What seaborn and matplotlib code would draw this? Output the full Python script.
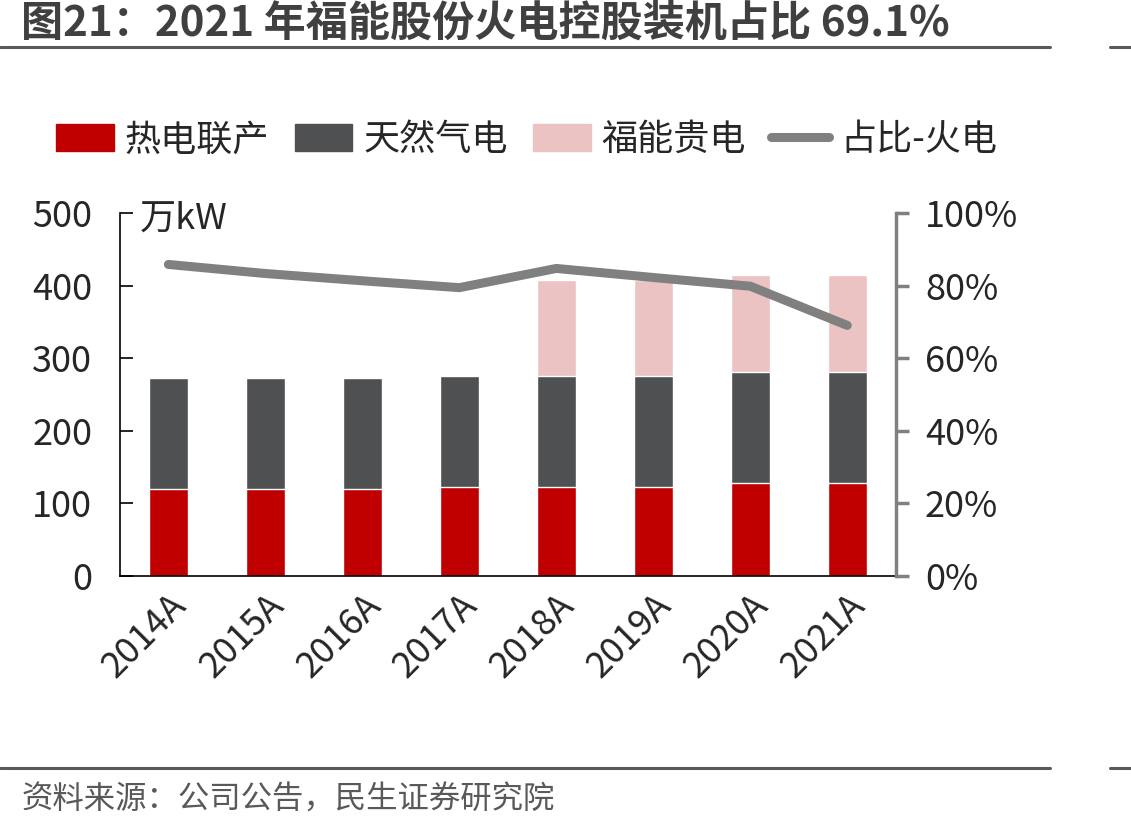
import seaborn as sns
import matplotlib.pyplot as plt
import pandas as pd
from matplotlib.lines import Line2D
from matplotlib.patches import Patch

# 装机容量（万kW）与火电占比
years = ['2014A', '2015A', '2016A', '2017A', '2018A', '2019A', '2020A', '2021A']
chp = [119.5, 119.5, 119.5, 122.7, 122.7, 122.7, 128.7, 128.7]       # 热电联产
gas = [153, 153, 153, 153, 153, 153, 153, 153]                       # 天然气电
guidian = [0, 0, 0, 0, 132.3, 132.3, 132.8, 132.8]                    # 福能贵电
share = [85.9, 83.4, 81.4, 79.5, 84.8, 82.3, 79.9, 69.1]              # 占比-火电 (%)

c_red, c_dark, c_pink, c_line = '#C00000', '#4F5052', '#EBC3C3', '#808080'

sns.set_theme(style='white')
plt.rcParams['font.family'] = ['Noto Sans CJK SC', 'DejaVu Sans']

df = pd.DataFrame({'year': years, 'chp': chp, 'gas': gas, 'gd': guidian, 'share': share})
df['lvl2'] = df['chp'] + df['gas']
df['lvl3'] = df['lvl2'] + df['gd']
df['pos'] = range(len(df))

fig = plt.figure(figsize=(11.31, 8.30), dpi=100)
ax = fig.add_axes([0.106, 0.306, 0.686, 0.437])

# stacked bars drawn as cumulative heights
sns.barplot(data=df, x='year', y='lvl3', color=c_pink, width=0.4, saturation=1, ax=ax)
sns.barplot(data=df, x='year', y='lvl2', color=c_dark, width=0.4, saturation=1, ax=ax)
sns.barplot(data=df, x='year', y='chp', color=c_red, width=0.4, saturation=1, ax=ax)

ax.set_xlim(-0.5, len(years) - 0.5)
ax.set_ylim(0, 500)
ax.set_yticks(range(0, 501, 100))
ax.set_xlabel('')
ax.set_ylabel('')
for s in ['top', 'right']:
    ax.spines[s].set_visible(False)
for s in ['left', 'bottom']:
    ax.spines[s].set_color('black')
    ax.spines[s].set_linewidth(1.2)
ax.tick_params(axis='y', direction='in', length=9, width=1.2, color='black',
               labelsize=26, pad=20)
ax.tick_params(axis='x', which='major', length=0, labelsize=26, pad=8)
ax.set_xticks([i + 0.5 for i in range(len(years) - 1)], minor=True)
ax.tick_params(axis='x', which='minor', direction='in', length=9, width=1.2, color='black')
for lab in ax.get_xticklabels():
    lab.set_rotation(45)
    lab.set_ha('right')
    lab.set_rotation_mode('anchor')
ax.text(0.025, 0.985, '万kW', transform=ax.transAxes, fontsize=26, va='center', ha='left')

ax2 = ax.twinx()
sns.lineplot(data=df, x='pos', y='share', color=c_line, linewidth=6.5,
             solid_capstyle='round', solid_joinstyle='round', ax=ax2)
ax2.set_ylim(0, 100)
ax2.set_yticks(range(0, 101, 20))
ax2.set_yticklabels([f'{v}%' for v in range(0, 101, 20)])
ax2.set_ylabel('')
for s in ['top', 'left', 'bottom']:
    ax2.spines[s].set_visible(False)
ax2.spines['right'].set_color(c_line)
ax2.spines['right'].set_linewidth(2.5)
ax2.tick_params(axis='y', direction='out', length=9, width=2.5, color=c_line,
                labelsize=26, pad=12)
ax2.grid(False)
ax.grid(False)

handles = [Patch(color=c_red), Patch(color=c_dark), Patch(color=c_pink),
           Line2D([0], [0], color=c_line, lw=6.5, solid_capstyle='round')]
labels = ['热电联产', '天然气电', '福能贵电', '占比-火电']
fig.legend(handles, labels, loc='center left', bbox_to_anchor=(0.021, 0.831), ncol=4,
           frameon=False, fontsize=26, handlelength=1.6, handleheight=0.75,
           handletextpad=0.3, columnspacing=0.7)

# title, rules and source
fig.text(0.019, 0.972, '图21：2021 年福能股份火电控股装机占比 69.1%', fontsize=30.3,
         fontweight='bold', color='#404040', va='center', ha='left')
for y in [0.943, 0.075]:
    fig.add_artist(Line2D([0, 0.928], [y, y], color='#595959', lw=2.2, transform=fig.transFigure))
    fig.add_artist(Line2D([0.981, 1], [y, y], color='#595959', lw=2.2, transform=fig.transFigure))
fig.text(0.019, 0.036, '资料来源：公司公告，民生证券研究院', fontsize=22.6,
         color='#595959', va='center', ha='left')

fig.savefig('out.png', dpi=100)
